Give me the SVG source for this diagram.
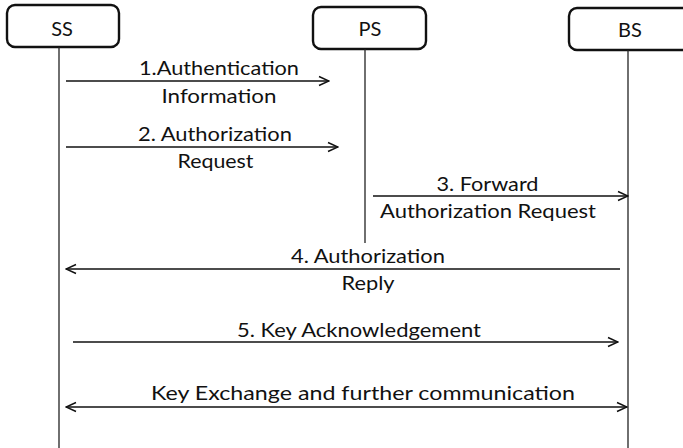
<svg xmlns="http://www.w3.org/2000/svg" width="683" height="448" viewBox="0 0 683 448">
  <style>
    .box { fill: #fff; stroke: #111; stroke-width: 2.4; }
    .life { stroke: #222; stroke-width: 1.3; fill: none; }
    .msg { stroke: #111; stroke-width: 1.4; fill: none; }
    text { font-family: Lato, "Liberation Sans", Arial, sans-serif; font-size: 20px; fill: #111; text-anchor: middle; }
  </style>
  <defs>
    <marker id="head" viewBox="0 0 12 12" refX="11" refY="6" markerWidth="12" markerHeight="12" markerUnits="userSpaceOnUse" orient="auto-start-reverse">
      <path d="M1,1.5 L11,6 L1,10.5" fill="none" stroke="#111" stroke-width="1.5"/>
    </marker>
  </defs>
  <rect width="683" height="448" fill="#fff"/>

  <!-- participants -->
  <g id="node-ss">
    <rect class="box" x="7" y="5" width="112" height="42" rx="8"/>
    <line class="life" x1="59" y1="47" x2="59" y2="448"/>
    <text x="62" y="36">SS</text>
  </g>
  <g id="node-ps">
    <rect class="box" x="313" y="7" width="113" height="42" rx="8"/>
    <line class="life" x1="365" y1="49" x2="365" y2="243"/>
    <text x="370" y="36">PS</text>
  </g>
  <g id="node-bs">
    <rect class="box" x="569" y="8" width="130" height="42" rx="8"/>
    <line class="life" x1="628" y1="50" x2="628" y2="448"/>
    <text x="630" y="37">BS</text>
  </g>

  <!-- messages -->
  <g id="connectors">
    <line class="msg" x1="66" y1="81" x2="329" y2="81" marker-end="url(#head)"/>
    <line class="msg" x1="66" y1="147" x2="338" y2="147" marker-end="url(#head)"/>
    <line class="msg" x1="373" y1="196" x2="628" y2="196" marker-end="url(#head)"/>
    <line class="msg" x1="620" y1="269" x2="66" y2="269" marker-end="url(#head)"/>
    <line class="msg" x1="73" y1="342" x2="618" y2="342" marker-end="url(#head)"/>
    <line class="msg" x1="66" y1="407" x2="627" y2="407" marker-start="url(#head)" marker-end="url(#head)"/>
  </g>

  <g id="labels">
    <text x="219" y="75" textLength="160" lengthAdjust="spacingAndGlyphs">1.Authentication</text>
    <text x="219" y="103" textLength="115" lengthAdjust="spacingAndGlyphs">Information</text>
    <text x="215" y="141" textLength="154" lengthAdjust="spacingAndGlyphs">2. Authorization</text>
    <text x="215.5" y="168" textLength="76" lengthAdjust="spacingAndGlyphs">Request</text>
    <text x="487.5" y="191" textLength="102" lengthAdjust="spacingAndGlyphs">3. Forward</text>
    <text x="488" y="218" textLength="216" lengthAdjust="spacingAndGlyphs">Authorization Request</text>
    <text x="368" y="263" textLength="154" lengthAdjust="spacingAndGlyphs">4. Authorization</text>
    <text x="368" y="290" textLength="53" lengthAdjust="spacingAndGlyphs">Reply</text>
    <text x="359" y="337" textLength="244" lengthAdjust="spacingAndGlyphs">5. Key Acknowledgement</text>
    <text x="363" y="400" textLength="424" lengthAdjust="spacingAndGlyphs">Key Exchange and further communication</text>
  </g>
</svg>
